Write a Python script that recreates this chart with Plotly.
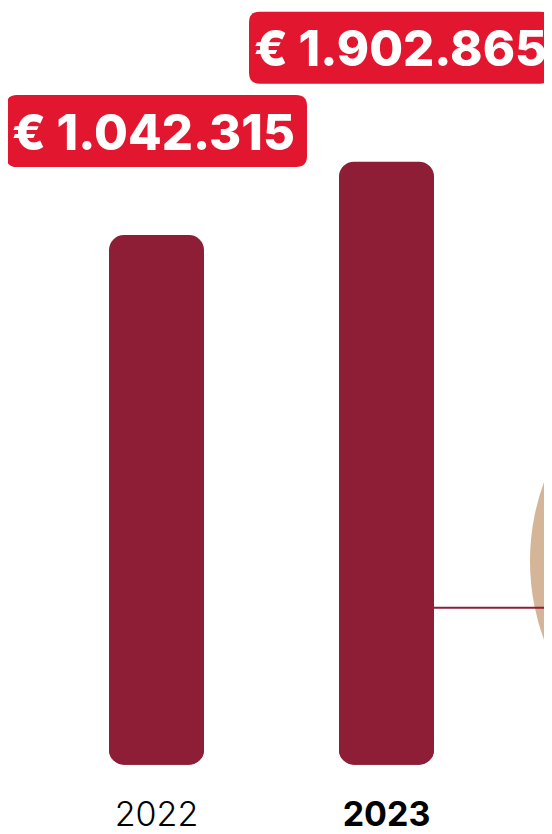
import plotly.graph_objects as go

# ---- data ----
years = ["2022", "2023"]
values = [1042315, 1902865]
value_labels = ["€ 1.042.315", "€ 1.902.865"]
tick_labels = ["2022", "<b>2023</b>"]

# ---- style ----
OFF = 8                      # page body margin
W, H = 552 - OFF, 834 - OFF
PLOT_H = 790
MB = H - PLOT_H
BAR_COLOR = "#8D1E36"
LABEL_BG = "#E3162F"
CIRCLE_COLOR = "#D4B597"
BAR_BASE = -5167600          # visual baseline of the bars
BOTTOM_PX = 771.5 - OFF      # pixel row of bar bottoms
TOP2_PX = 163 - OFF          # pixel row of the tallest bar top
s = (BOTTOM_PX - TOP2_PX) / (values[1] - BAR_BASE)   # px per unit
y_hi = BAR_BASE + BOTTOM_PX / s
y_lo = BAR_BASE - (PLOT_H - BOTTOM_PX) / s
BAR_W = 95 / 230
X_RANGE = [-(156.5 - OFF) / 230, 1 + (552 - 386.5) / 230]
CAP = 40 / s

# label box offsets (pixels relative to bar centre / bar top)
BOX_X = [(-150.5, 150.5), (-137.5, 164.5)]
BOX_Y = [(68, 140), (78, 150)]
TEXT_DX = [-3, 14]
TEXT_DY = [-1, -1]


def px_to_y(py):
    return BAR_BASE + (BOTTOM_PX - py) / s


def rrect(x0, x1, y0, y1, r):
    return (f"M {x0+r},{y0} L {x1-r},{y0} Q {x1},{y0} {x1},{y0+r} "
            f"L {x1},{y1-r} Q {x1},{y1} {x1-r},{y1} L {x0+r},{y1} "
            f"Q {x0},{y1} {x0},{y1-r} L {x0},{y0+r} Q {x0},{y0} {x0+r},{y0} Z")


fig = go.Figure()
fig.add_trace(go.Bar(x=years, y=[v - BAR_BASE for v in values], base=[BAR_BASE] * 2,
                     width=BAR_W, marker_color=BAR_COLOR, marker_line_width=0,
                     hoverinfo="skip"))
fig.add_trace(go.Bar(x=years, y=[-CAP] * 2, base=[BAR_BASE + CAP] * 2,
                     width=BAR_W, marker_color=BAR_COLOR, marker_line_width=0,
                     hoverinfo="skip"))

shapes = []
# background circle
cx0, cx1, cy0, cy1 = 530 - OFF, 998 - OFF, 332 - OFF, 800 - OFF
shapes.append(dict(type="circle", xref="paper", yref="paper", layer="below",
                   x0=cx0 / W, x1=cx1 / W, y0=1 - cy1 / PLOT_H, y1=1 - cy0 / PLOT_H,
                   fillcolor=CIRCLE_COLOR, line_width=0))
# connector line
shapes.append(dict(type="line", xref="x", yref="y", x0=1 + BAR_W / 2, x1=2.0,
                   y0=px_to_y(613 - OFF), y1=px_to_y(613 - OFF),
                   line=dict(color=BAR_COLOR, width=2)))

annotations = []
for i, (yr, v, lab) in enumerate(zip(years, values, value_labels)):
    (bx0, bx1), (by0, by1) = BOX_X[i], BOX_Y[i]
    shapes.append(dict(type="path", xref="x", yref="y", xsizemode="pixel", ysizemode="pixel",
                       xanchor=i, yanchor=v, path=rrect(bx0, bx1, by0, by1, 11),
                       fillcolor=LABEL_BG, line_width=0))
    annotations.append(dict(x=i, y=v, xref="x", yref="y", text=lab, showarrow=False,
                            xshift=TEXT_DX[i], yshift=(by0 + by1) / 2 + TEXT_DY[i],
                            xanchor="center", yanchor="middle",
                            font=dict(family="Inter", size=49, color="white", weight=800)))

fig.update_layout(
    width=W, height=H,
    margin=dict(l=0, r=0, t=0, b=MB),
    paper_bgcolor="white", plot_bgcolor="white",
    barmode="overlay", barcornerradius=15, showlegend=False,
    shapes=shapes, annotations=annotations,
    xaxis=dict(range=X_RANGE, tickvals=[0, 1], ticktext=tick_labels, showgrid=False,
               zeroline=False, showline=False, ticks="",
               tickfont=dict(family="Inter", size=34, color="black", weight=300)),
    yaxis=dict(range=[y_lo, y_hi], visible=False, showgrid=False, zeroline=False),
)

fig.write_html("out.html")
